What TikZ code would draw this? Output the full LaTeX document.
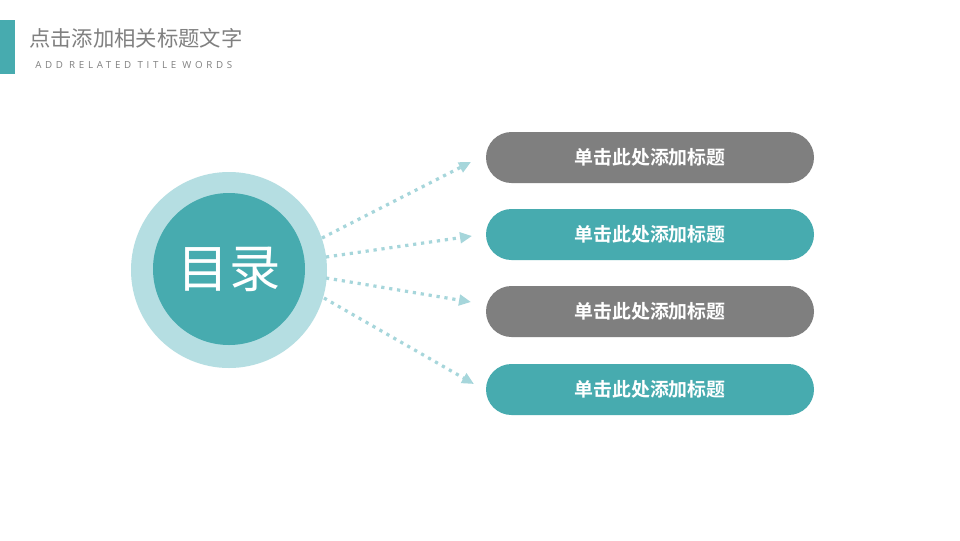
\documentclass[tikz,border=0pt]{standalone}
\usepackage{fontspec}
\setmainfont{Open Sans}
\newfontfamily\cjk{Noto Sans CJK SC}
\newfontfamily\cjkb{Noto Sans CJK SC}[BoldFont={* Bold}]
\newfontfamily\subfont{Open Sans}[LetterSpace=38]
\usetikzlibrary{arrows.meta,shapes.misc}
\definecolor{teal1}{HTML}{47ABAF}
\definecolor{lightteal}{HTML}{B5DEE2}
\definecolor{greyA}{HTML}{7F7F7F}
\definecolor{dotc}{HTML}{A6D6DB}
\definecolor{titlec}{HTML}{808080}
\tikzset{
  pill/.style={rounded rectangle, minimum width=328*0.75pt, minimum height=51*0.75pt, inner sep=0pt, text=white, font=\cjkb\bfseries\fontsize{14.2pt}{16pt}\selectfont},
  conn/.style={draw=dotc, line width=2.4pt, line cap=butt, dash pattern=on 2.4pt off 3.6pt, -{Triangle[length=9pt,width=8pt]}},
}
\begin{document}
\begin{tikzpicture}[x=0.75pt,y=-0.75pt]
\useasboundingbox (0,0) rectangle (960,540);
\fill[white] (0,0) rectangle (960,540);
% title bar
\fill[teal1] (0,20) rectangle (15,74);
\node[anchor=west, inner sep=0pt, text=titlec, font=\cjk\fontsize{16pt}{18pt}\selectfont] (title) at (29,38) {点击添加相关标题文字};
\node[anchor=west, inner sep=0pt, text=titlec, font=\subfont\fontsize{7.3pt}{9pt}\selectfont] (subtitle) at (35,65) {ADD RELATED TITLE WORDS};
% circles
\node[circle, fill=lightteal, minimum size=196*0.75pt, inner sep=0pt] (outer) at (229,270) {};
\node[circle, fill=teal1, minimum size=152*0.75pt, inner sep=0pt, text=white, font=\cjk\fontsize{38.5pt}{40pt}\selectfont] (inner) at (229,269) {目录};
% pills
\node[pill, fill=greyA] (p1) at (650,157.5) {单击此处添加标题};
\node[pill, fill=teal1] (p2) at (650,234.5) {单击此处添加标题};
\node[pill, fill=greyA] (p3) at (650,311.5) {单击此处添加标题};
\node[pill, fill=teal1] (p4) at (650,389.5) {单击此处添加标题};
% arrow ends
\coordinate (s1) at (322,238); \coordinate (e1) at (471,162);
\coordinate (s2) at (326,257); \coordinate (e2) at (472,236);
\coordinate (s3) at (326,278); \coordinate (e3) at (471,302);
\coordinate (s4) at (324,298); \coordinate (e4) at (474,384);
\draw[conn] (s1) -- (e1);
\draw[conn] (s2) -- (e2);
\draw[conn] (s3) -- (e3);
\draw[conn] (s4) -- (e4);
\end{tikzpicture}
\end{document}
